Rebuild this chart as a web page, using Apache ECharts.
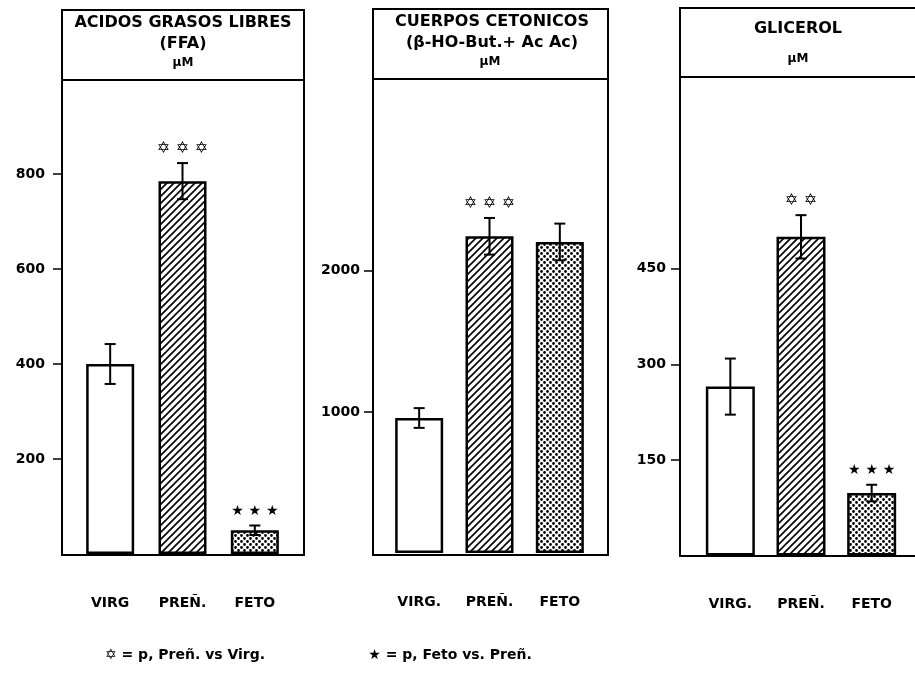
<!DOCTYPE html>
<html>
<head>
<meta charset="utf-8">
<script src="https://cdn.jsdelivr.net/npm/echarts@6/dist/echarts.min.js"></script>
<style>
  html, body { margin: 0; padding: 0; background: #fff; }
  #main { width: 915px; height: 684px; }
</style>
</head>
<body>
<div id="main"></div>
<script>
// categorias (eje x) de cada panel
var catFFA = ['VIRG', 'PREÑ.', 'FETO'];
var catCeto = ['VIRG.', 'PREÑ.', 'FETO'];
var catGlic = ['VIRG.', 'PREÑ.', 'FETO'];

// medias y error (µM)
var ffaMean = [400, 785, 50];
var ffaErr = [42, 38, 10];
var cetoMean = [957, 2245, 2205];
var cetoErr = [70, 130, 130];
var glicMean = [265, 500, 98];
var glicErr = [44, 34, 13];

// marcas de significacion
var ffaSig = ['', '✡ ✡ ✡', '★ ★ ★'];
var cetoSig = ['', '✡ ✡ ✡', ''];
var glicSig = ['', '✡ ✡', '★ ★ ★'];

// etiquetas del eje y
var ffaTicks = [200, 400, 600, 800];
var cetoTicks = [1000, 2000];
var glicTicks = [150, 300, 450];

var FONT = '"DejaVu Sans", sans-serif';

// tramas de relleno
function hatch() {
  var c = document.createElement('canvas');
  c.width = 7; c.height = 7;
  var ctx = c.getContext('2d');
  ctx.fillStyle = '#fff';
  ctx.fillRect(0, 0, 7, 7);
  ctx.strokeStyle = '#000';
  ctx.lineWidth = 1.6;
  ctx.beginPath();
  ctx.moveTo(-1, 8); ctx.lineTo(8, -1);
  ctx.moveTo(-1, 1); ctx.lineTo(1, -1);
  ctx.moveTo(6, 8); ctx.lineTo(8, 6);
  ctx.stroke();
  return c;
}
function dots() {
  var c = document.createElement('canvas');
  c.width = 6; c.height = 6;
  var ctx = c.getContext('2d');
  ctx.fillStyle = '#fff';
  ctx.fillRect(0, 0, 6, 6);
  ctx.fillStyle = '#000';
  ctx.beginPath();
  ctx.arc(1.5, 1.5, 1.4, 0, Math.PI * 2);
  ctx.arc(4.5, 4.5, 1.4, 0, Math.PI * 2);
  ctx.fill();
  return c;
}
var fills = ['#fff', { image: hatch(), repeat: 'repeat' }, { image: dots(), repeat: 'repeat' }];

// paneles: grid de datos + ejes
var panels = [
  { cats: catFFA, mean: ffaMean, err: ffaErr, sig: ffaSig, ticks: ffaTicks,
    left: 74, width: 217, top: 79, height: 475, max: 1000, offset: 12, barW: 48, lblMargin: 17 },
  { cats: catCeto, mean: cetoMean, err: cetoErr, sig: cetoSig, ticks: cetoTicks,
    left: 384, width: 211, top: 79, height: 474, max: 3360, offset: 11, barW: 48, lblMargin: 13 },
  { cats: catGlic, mean: glicMean, err: glicErr, sig: glicSig, ticks: glicTicks,
    left: 695, width: 212, top: 77.5, height: 478, max: 750, offset: 15, barW: 49, lblMargin: 14 }
];

var grid = [], xAxis = [], yAxis = [], series = [];

panels.forEach(function (p, i) {
  grid.push({ left: p.left, width: p.width, top: p.top, height: p.height });
  xAxis.push({
    type: 'category', gridIndex: i, data: p.cats,
    axisLine: { show: false }, axisTick: { show: false },
    axisLabel: { margin: 42, color: '#000', fontFamily: FONT, fontWeight: 'bold', fontSize: 14 }
  });
  yAxis.push({
    type: 'value', gridIndex: i, min: 0, max: p.max, offset: p.offset,
    splitLine: { show: false },
    axisLine: { show: false },
    axisTick: { show: true, length: 9, customValues: p.ticks, lineStyle: { color: '#000', width: 1.5 } },
    axisLabel: { customValues: p.ticks, margin: p.lblMargin, color: '#000',
      fontFamily: FONT, fontWeight: 'bold', fontSize: 14,
      formatter: function (v) { return String(v); } }
  });
  series.push({
    type: 'bar', xAxisIndex: i, yAxisIndex: i, barWidth: p.barW,
    data: p.mean.map(function (v, k) {
      return { value: v, itemStyle: { color: fills[k] } };
    }),
    itemStyle: { borderColor: '#000', borderWidth: 2.5 },
    emphasis: { disabled: true }
  });
  series.push({
    type: 'custom', xAxisIndex: i, yAxisIndex: i, z: 5,
    encode: { x: 0, y: 1 },
    data: p.mean.map(function (v, k) { return [k, v, p.err[k]]; }),
    renderItem: function (params, api) {
      var k = api.value(0), m = api.value(1), e = api.value(2);
      var hi = api.coord([k, m + e]);
      var lo = api.coord([k, m - e]);
      var s = { stroke: '#000', lineWidth: 2 };
      var ch = [
        { type: 'line', shape: { x1: hi[0], y1: hi[1], x2: lo[0], y2: lo[1] }, style: s },
        { type: 'line', shape: { x1: hi[0] - 5.5, y1: hi[1], x2: hi[0] + 5.5, y2: hi[1] }, style: s },
        { type: 'line', shape: { x1: lo[0] - 5.5, y1: lo[1], x2: lo[0] + 5.5, y2: lo[1] }, style: s }
      ];
      var t = p.sig[k];
      if (t) {
        var star = t.indexOf('★') >= 0;
        ch.push({
          type: 'text',
          style: { text: t, x: hi[0], y: hi[1] - 14, textAlign: 'center', textVerticalAlign: 'middle',
            align: 'center', verticalAlign: 'middle', fill: '#000',
            font: 'bold ' + (star ? 14 : 16) + 'px ' + FONT }
        });
      }
      return { type: 'group', children: ch };
    }
  });
});

var line = { stroke: '#000', lineWidth: 2 };
function txt(t, x, y, size) {
  return { type: 'text', style: { text: t, x: x, y: y, textAlign: 'center', textVerticalAlign: 'middle',
    align: 'center', verticalAlign: 'middle', fill: '#000', font: 'bold ' + (size || 16) + 'px ' + FONT } };
}

var graphic = [
  // marcos
  { type: 'rect', shape: { x: 62, y: 10, width: 242, height: 545 }, style: { fill: 'none', stroke: '#000', lineWidth: 2 } },
  { type: 'line', shape: { x1: 62, y1: 80, x2: 304, y2: 80 }, style: line },
  { type: 'rect', shape: { x: 373, y: 9, width: 235, height: 546 }, style: { fill: 'none', stroke: '#000', lineWidth: 2 } },
  { type: 'line', shape: { x1: 373, y1: 79, x2: 608, y2: 79 }, style: line },
  { type: 'polyline', shape: { points: [[915, 8], [680, 8], [680, 556], [915, 556]] }, style: { fill: 'none', stroke: '#000', lineWidth: 2 } },
  { type: 'line', shape: { x1: 680, y1: 77, x2: 915, y2: 77 }, style: line },
  // cabeceras
  txt('ACIDOS GRASOS LIBRES', 183, 23),
  txt('(FFA)', 183, 44),
  txt('µM', 183, 63, 12),
  txt('CUERPOS CETONICOS', 492, 22),
  txt('(β-HO-But.+ Ac Ac)', 492, 43),
  txt('µM', 490, 62, 12),
  txt('GLICEROL', 798, 29),
  txt('µM', 798, 59, 12),
  // leyenda
  txt('✡ = p, Preñ. vs Virg.', 185, 655, 14),
  txt('★ = p, Feto vs. Preñ.', 450, 655, 14)
];

var chart = echarts.init(document.getElementById('main'));
chart.setOption({
  backgroundColor: '#fff',
  animation: false,
  grid: grid,
  xAxis: xAxis,
  yAxis: yAxis,
  series: series,
  graphic: graphic
});
</script>
</body>
</html>
